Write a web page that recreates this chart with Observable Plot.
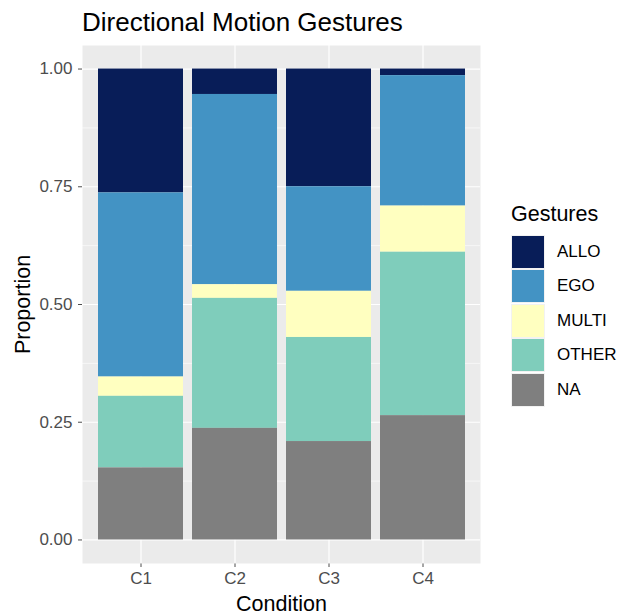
<!DOCTYPE html>
<html>
<head>
<meta charset="utf-8">
<script src="https://cdn.jsdelivr.net/npm/d3@7"></script>
<script src="https://cdn.jsdelivr.net/npm/@observablehq/plot@0.6"></script>
<style>
  body { margin: 0; background: #fff; font-family: "Liberation Sans", Arial, sans-serif; }
  #wrap { position: relative; width: 626px; height: 615px; overflow: hidden; }
  #chart { position: absolute; left: 0; top: 0; }
  #title { position: absolute; left: 82px; top: 9px; font-size: 26px; line-height: 1; color: #000; white-space: nowrap; }
  #legend { position: absolute; left: 511px; top: 203.5px; }
  .lt { font-size: 21.5px; line-height: 1; color: #000; margin-bottom: 9.5px; margin-left: 0px; }
  .row { display: flex; align-items: center; height: 34.5px; }
  .key { width: 34px; height: 34px; box-sizing: border-box; border: 1.75px solid #F2F2F2; margin-left: 0px; }
  .lab { font-size: 17px; margin-left: 12px; color: #000; }
</style>
</head>
<body>
<div id="wrap">
  <div id="title">Directional Motion Gestures</div>
  <div id="chart"></div>
  <div id="legend"></div>
</div>
<script>
const conditions = ["C1", "C2", "C3", "C4"];
const gestures = ["ALLO", "EGO", "MULTI", "OTHER", "NA"];
const colors = ["#081D58", "#4393C4", "#FFFFC0", "#7FCDBB", "#7F7F7F"];
// proportions per condition (C1..C4)
const ALLO  = [0.263, 0.054, 0.250, 0.014];
const EGO   = [0.391, 0.404, 0.222, 0.277];
const MULTI = [0.041, 0.029, 0.098, 0.098];
const OTHER = [0.152, 0.276, 0.221, 0.347];
const NA_   = [0.153, 0.237, 0.209, 0.264];
const yTicks = [0, 0.25, 0.5, 0.75, 1];
const yMinor = [0.125, 0.375, 0.625, 0.875];

const series = {ALLO, EGO, MULTI, OTHER, NA: NA_};
const data = [];
conditions.forEach((c, i) => {
  gestures.forEach(g => data.push({condition: c, gesture: g, value: series[g][i]}));
});

const chart = Plot.plot({
  width: 626,
  height: 615,
  marginLeft: 82,
  marginRight: 146,
  marginTop: 45,
  marginBottom: 52,
  style: {fontFamily: "Liberation Sans, Arial, sans-serif", fontSize: "17px", color: "#4D4D4D", background: "transparent"},
  x: {domain: conditions, paddingInner: 0.1, paddingOuter: 0.15, label: null, tickSize: 4, tickPadding: 4},
  y: {domain: [-0.05, 1.05], ticks: yTicks, tickFormat: d3.format(".2f"), label: null, tickSize: 4, tickPadding: 6},
  color: {domain: gestures, range: colors},
  marks: [
    Plot.frame({fill: "#EBEBEB", stroke: null}),
    Plot.ruleY(yMinor, {stroke: "#fff", strokeWidth: 0.6}),
    Plot.ruleY(yTicks, {stroke: "#fff", strokeWidth: 1.2}),
    Plot.ruleX(conditions, {stroke: "#fff", strokeWidth: 1.2}),
    Plot.barY(data, {x: "condition", y: "value", fill: "gesture", order: ["NA", "OTHER", "MULTI", "EGO", "ALLO"]}),
    Plot.text(["Condition"], {frameAnchor: "bottom", dy: 41, lineAnchor: "middle", textAnchor: "middle", fontSize: 21.5, fill: "#000"}),
    Plot.text(["Proportion"], {frameAnchor: "left", dx: -59, rotate: -90, lineAnchor: "middle", textAnchor: "middle", fontSize: 21.5, fill: "#000"})
  ]
});
document.getElementById("chart").appendChild(chart);

const legend = document.getElementById("legend");
const lt = document.createElement("div");
lt.className = "lt";
lt.textContent = "Gestures";
legend.appendChild(lt);
gestures.forEach((g, i) => {
  const row = document.createElement("div");
  row.className = "row";
  const k = document.createElement("div");
  k.className = "key";
  k.style.background = colors[i];
  const l = document.createElement("div");
  l.className = "lab";
  l.textContent = g;
  row.appendChild(k);
  row.appendChild(l);
  legend.appendChild(row);
});
</script>
</body>
</html>
